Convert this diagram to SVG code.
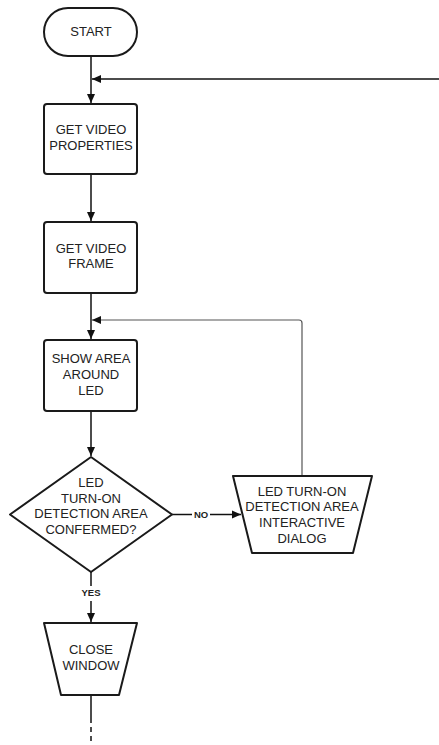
<svg xmlns="http://www.w3.org/2000/svg" width="439" height="745" viewBox="0 0 439 745">
<style>
.shape{fill:#fff;stroke:#1a1a1a;stroke-width:2;stroke-linejoin:round}
.t{font-family:"Liberation Sans",Arial,sans-serif;font-size:13px;fill:#222;text-anchor:middle}
.lbl{font-family:"Liberation Sans",Arial,sans-serif;font-size:9.5px;font-weight:bold;fill:#222;text-anchor:middle}
.c{fill:none;stroke:#111;stroke-width:1.5}
.g{fill:none;stroke:#555;stroke-width:1.2}
</style>
<defs>
<marker id="ah" markerWidth="10" markerHeight="10" refX="9" refY="5" orient="auto" markerUnits="userSpaceOnUse">
<path d="M0,1 L9,5 L0,9 Z" fill="#111"/>
</marker>
</defs>
<rect width="439" height="745" fill="#fff"/>
<g id="connectors">
<line class="c" x1="91" y1="56" x2="91" y2="103" marker-end="url(#ah)"/>
<line class="c" x1="439" y1="79" x2="92" y2="79" marker-end="url(#ah)"/>
<line class="c" x1="91" y1="174" x2="91" y2="221" marker-end="url(#ah)"/>
<line class="c" x1="91" y1="293" x2="91" y2="339" marker-end="url(#ah)"/>
<path class="g" d="M302,476 V323 Q302,320 299,320 H92" marker-end="url(#ah)"/>
<line class="c" x1="91" y1="411" x2="91" y2="456" marker-end="url(#ah)"/>
<line class="c" x1="172" y1="514.5" x2="192" y2="514.5"/>
<line class="c" x1="210" y1="514.5" x2="241" y2="514.5" marker-end="url(#ah)"/>
<text class="lbl" x="201" y="518">NO</text>
<line class="c" x1="91" y1="572" x2="91" y2="586"/>
<text class="lbl" x="91" y="596">YES</text>
<line class="c" x1="91" y1="601" x2="91" y2="622" marker-end="url(#ah)"/>
<line class="c" x1="91" y1="695" x2="91" y2="718"/>
<line class="c" x1="91" y1="718" x2="91" y2="745" stroke-dasharray="5,4"/>
</g>
<g id="start">
<rect class="shape" x="44" y="8" width="93" height="48" rx="24" ry="24"/>
<text class="t" x="91" y="36">START</text>
</g>
<g id="get-video-properties">
<rect class="shape" x="44" y="104" width="93" height="70" rx="3"/>
<text class="t" x="91" y="134">GET VIDEO</text>
<text class="t" x="91" y="150">PROPERTIES</text>
</g>
<g id="get-video-frame">
<rect class="shape" x="44" y="222" width="93" height="71" rx="3"/>
<text class="t" x="91" y="253">GET VIDEO</text>
<text class="t" x="91" y="268">FRAME</text>
</g>
<g id="show-area">
<rect class="shape" x="44" y="340" width="93" height="71" rx="3"/>
<text class="t" x="91" y="363">SHOW AREA</text>
<text class="t" x="91" y="379">AROUND</text>
<text class="t" x="91" y="395">LED</text>
</g>
<g id="decision">
<path class="shape" d="M91,457 L172,514.5 L91,572 L10,514.5 Z"/>
<text class="t" x="91" y="487">LED</text>
<text class="t" x="91" y="503">TURN-ON</text>
<text class="t" x="91" y="518">DETECTION AREA</text>
<text class="t" x="91" y="534">CONFERMED?</text>
</g>
<g id="dialog">
<path class="shape" d="M233,476 L372,476 L353,553 L252,553 Z"/>
<text class="t" x="302" y="496">LED TURN-ON</text>
<text class="t" x="302" y="511">DETECTION AREA</text>
<text class="t" x="302" y="527">INTERACTIVE</text>
<text class="t" x="302" y="543">DIALOG</text>
</g>
<g id="close-window">
<path class="shape" d="M44,623 L137,623 L119,695 L61,695 Z"/>
<text class="t" x="91" y="654">CLOSE</text>
<text class="t" x="91" y="670">WINDOW</text>
</g>
</svg>
